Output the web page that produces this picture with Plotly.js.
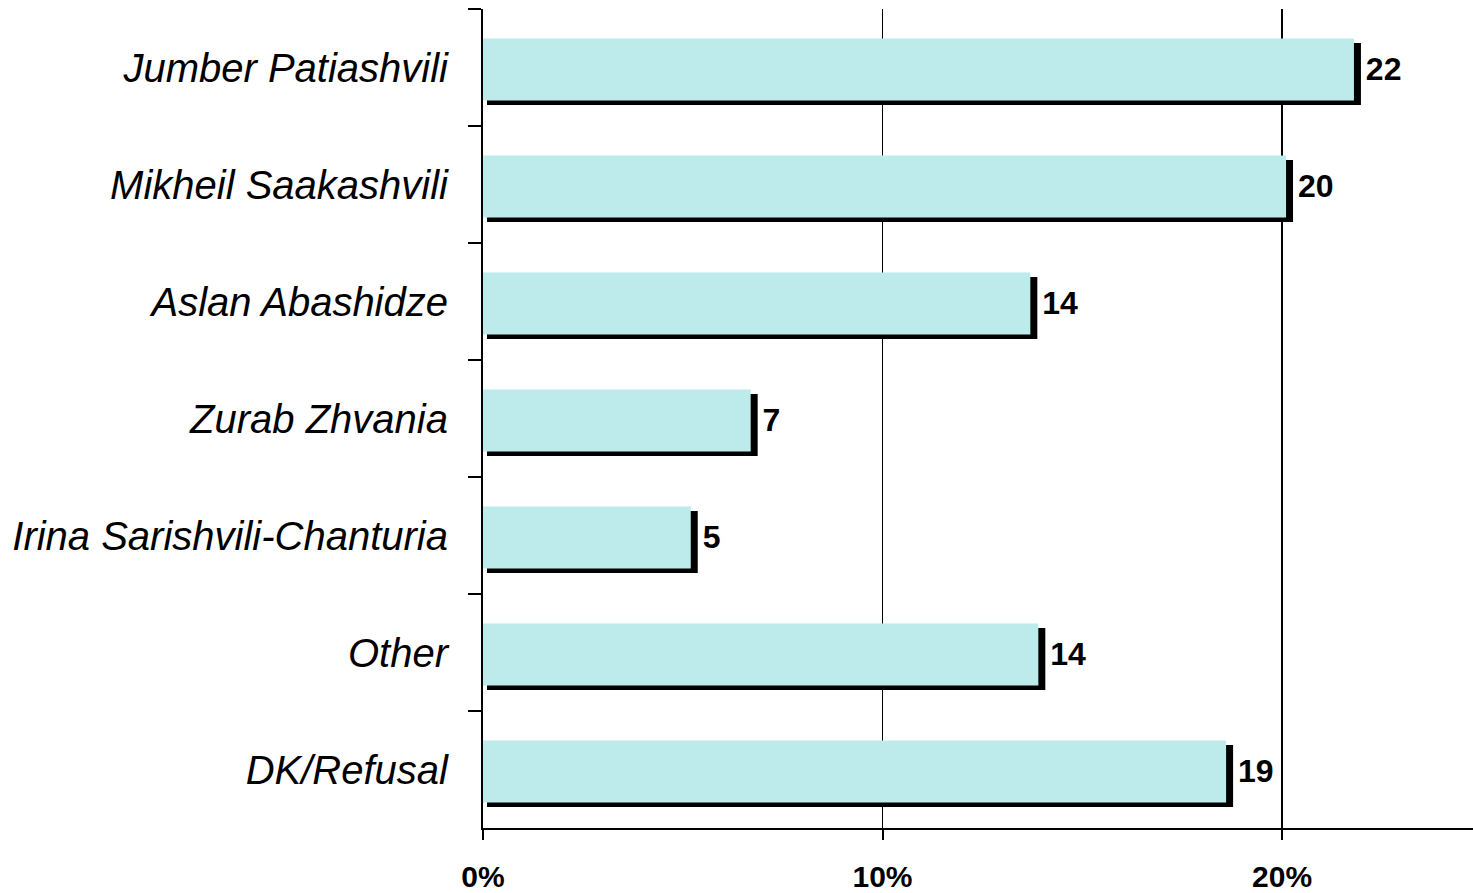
<!DOCTYPE html>
<html>
<head>
<meta charset="utf-8">
<script src="https://cdn.plot.ly/plotly-3.0.1.min.js"></script>
<style>html,body{margin:0;padding:0;background:#fff;}#chart{width:1473px;height:893px;}</style>
</head>
<body>
<div id="chart"></div>
<script>
// Data
const categories = ['Jumber Patiashvili', 'Mikheil Saakashvili', 'Aslan Abashidze', 'Zurab Zhvania', 'Irina Sarishvili-Chanturia', 'Other', 'DK/Refusal'];
const values = [21.8, 20.1, 13.7, 6.7, 5.2, 13.9, 18.6];
const valueLabels = ['22', '20', '14', '7', '5', '14', '19'];
const xTickVals = [0, 10, 20];
const xTickText = ['0%', '10%', '20%'];

const FONT = 'Arial, "Liberation Sans", sans-serif';
const barWidth = 0.53;
const barOffset = -0.248;
const shadowDy = 0.038;
const shadowBase = 0.1;
const shadowExtra = 0.075;

const shadow = {
  type: 'bar', orientation: 'h',
  y: categories,
  x: values.map(v => v + shadowExtra),
  base: categories.map(() => shadowBase),
  width: barWidth, offset: barOffset + shadowDy,
  marker: {color: '#000000', line: {width: 0}},
  hoverinfo: 'skip', showlegend: false
};

const main = {
  type: 'bar', orientation: 'h',
  y: categories,
  x: values,
  width: barWidth, offset: barOffset,
  marker: {color: '#bdeaea', line: {width: 0}},
  text: valueLabels,
  texttemplate: '\u00a0%{text}',
  textposition: 'outside',
  constraintext: 'none',
  cliponaxis: false,
  textfont: {family: FONT, size: 32, color: '#000000', weight: 'bold'},
  showlegend: false
};

const layout = {
  width: 1473, height: 893,
  margin: {l: 483, r: 0, t: 9, b: 65, pad: 0},
  paper_bgcolor: '#ffffff', plot_bgcolor: '#ffffff',
  barmode: 'overlay',
  showlegend: false,
  xaxis: {
    range: [0, 24.78],
    tickmode: 'array', tickvals: xTickVals, ticktext: xTickText,
    ticks: 'outside', ticklen: 10, tickwidth: 2, tickcolor: '#000000',
    showline: true, linewidth: 2, linecolor: '#000000',
    showgrid: true, gridcolor: '#000000', gridwidth: 1.5,
    zeroline: false,
    ticklabelstandoff: 11,
    tickfont: {family: FONT, size: 30, color: '#000000', weight: 'bold'}
  },
  yaxis: {
    type: 'category',
    categoryorder: 'array', categoryarray: categories,
    range: [6.5, -0.5],
    ticks: 'outside', ticklen: 13, tickwidth: 2, tickcolor: '#000000',
    tickson: 'boundaries',
    showline: true, linewidth: 2, linecolor: '#000000',
    showgrid: false, zeroline: false,
    ticklabelstandoff: 25,
    tickfont: {family: FONT, size: 40, color: '#000000', style: 'italic'}
  }
};

Plotly.newPlot('chart', [shadow, main], layout, {displayModeBar: false, staticPlot: true});
</script>
</body>
</html>
